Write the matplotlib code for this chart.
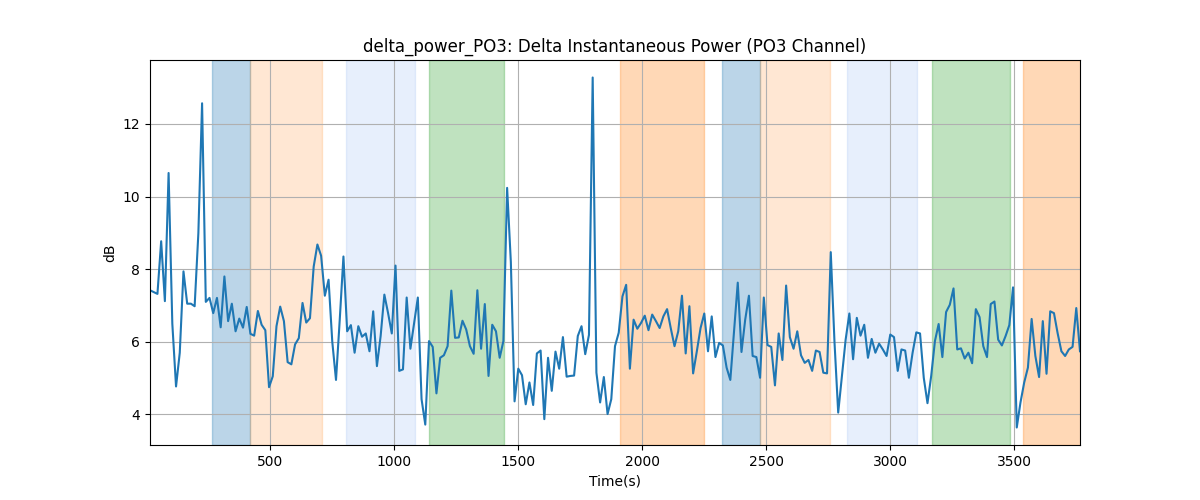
import numpy as np
import matplotlib
matplotlib.use('Agg')
from matplotlib import pyplot as plt

# time axis (s), one sample every 15 s
time_s = np.arange(16, 3767, 15)

delta_db = [
	7.42, 7.37, 7.32, 8.77, 7.12, 10.65, 6.5, 4.77, 5.70, 7.94,
	7.05, 7.05, 6.98, 8.99, 12.57, 7.10, 7.21, 6.79, 7.21, 6.40,
	7.80, 6.57, 7.05, 6.29, 6.64, 6.39, 6.96, 6.22, 6.17, 6.85,
	6.47, 6.32, 4.75, 5.05, 6.43, 6.97, 6.57, 5.44, 5.38, 5.93,
	6.10, 7.07, 6.53, 6.65, 8.07, 8.68, 8.37, 7.27, 7.71, 6.0,
	4.95, 6.6, 8.35, 6.29, 6.46, 5.70, 6.43, 6.14, 6.23, 5.74,
	6.84, 5.33, 6.16, 7.30, 6.79, 6.23, 8.10, 5.20, 5.24, 7.22,
	5.81, 6.52, 7.22, 4.42, 3.72, 6.02, 5.86, 4.58, 5.56, 5.63,
	5.88, 7.41, 6.11, 6.12, 6.58, 6.34, 5.88, 5.67, 7.42, 5.81,
	7.04, 5.06, 6.47, 6.29, 5.56, 6.02, 10.24, 8.2, 4.36, 5.26,
	5.08, 4.28, 4.88, 4.26, 5.68, 5.76, 3.87, 5.56, 4.65, 5.73,
	5.26, 6.13, 5.04, 5.06, 5.07, 6.16, 6.43, 5.66, 6.19, 13.28,
	5.15, 4.33, 5.03, 4.01, 4.42, 5.88, 6.25, 7.25, 7.57, 5.26,
	6.61, 6.36, 6.52, 6.72, 6.32, 6.75, 6.57, 6.38, 6.70, 6.90,
	6.37, 5.88, 6.29, 7.27, 5.68, 6.98, 5.13, 5.74, 6.38, 6.78,
	5.74, 6.70, 5.58, 5.97, 5.90, 5.29, 4.95, 6.3, 7.63, 5.72,
	6.61, 7.27, 5.61, 5.58, 5.01, 7.22, 5.91, 5.86, 4.80, 6.23,
	5.50, 7.55, 6.13, 5.81, 6.29, 5.63, 5.42, 5.50, 5.20, 5.76,
	5.72, 5.15, 5.13, 8.47, 6.0, 4.05, 5.06, 6.06, 6.78, 5.52,
	6.66, 6.17, 6.47, 5.56, 6.08, 5.70, 5.95, 5.79, 5.61, 6.20,
	6.13, 5.20, 5.79, 5.76, 5.01, 5.70, 6.26, 6.23, 5.01, 4.31,
	5.06, 6.02, 6.49, 5.58, 6.82, 7.02, 7.47, 5.79, 5.82, 5.54,
	5.70, 5.41, 6.90, 6.68, 5.88, 5.58, 7.04, 7.11, 6.06, 5.90,
	6.16, 6.46, 7.50, 3.64, 4.33, 4.88, 5.29, 6.63, 5.61, 5.03,
	6.57, 5.12, 6.84, 6.79, 6.23, 5.74, 5.61, 5.79, 5.86, 6.93,
	5.74,
]

# shaded stimulus windows: start, end (s)
span_start = [265, 421, 805, 1140, 1910, 2321, 2477, 2825, 3171, 3535]
span_end = [421, 711, 1086, 1445, 2249, 2477, 2756, 3108, 3485, 3780]
span_color = ['tab:blue', 'tab:orange', 'cornflowerblue', 'tab:green', 'tab:orange',
	'tab:blue', 'tab:orange', 'cornflowerblue', 'tab:green', 'tab:orange']
span_alpha = [0.3, 0.18, 0.15, 0.3, 0.3, 0.3, 0.18, 0.15, 0.3, 0.3]

fig, ax = plt.subplots(figsize=(12, 5), dpi=100)

for s, e, c, a in zip(span_start, span_end, span_color, span_alpha):
	ax.axvspan(s, e, color=c, alpha=a)

ax.plot(time_s, delta_db, color='tab:blue', linewidth=1.5)

ax.set_xlim(time_s[0], time_s[-1])
ax.set_title('delta_power_PO3: Delta Instantaneous Power (PO3 Channel)')
ax.set_xlabel('Time(s)')
ax.set_ylabel('dB')
ax.grid(True)

fig.savefig('out.png')
